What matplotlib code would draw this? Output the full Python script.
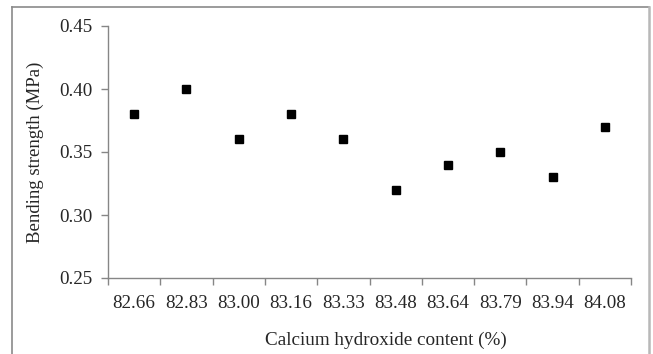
import matplotlib
matplotlib.use("Agg")
import matplotlib.pyplot as plt
from matplotlib.lines import Line2D

categories = ["82.66", "82.83", "83.00", "83.16", "83.33", "83.48", "83.64", "83.79", "83.94", "84.08"]
strength = [0.38, 0.40, 0.36, 0.38, 0.36, 0.32, 0.34, 0.35, 0.33, 0.37]
yticks = [0.25, 0.30, 0.35, 0.40, 0.45]

plt.rcParams['font.family'] = ['Liberation Serif', 'DejaVu Serif']

W, H = 653, 354
fig = plt.figure(figsize=(W/100, H/100), dpi=100)
ax = fig.add_axes([108/W, 1-278/H, (631-108)/W, (278-26)/H])

x = list(range(len(categories)))
ax.plot(x, strength, linestyle='none', marker='s', markersize=5.2, color='black')

ax.set_xlim(-0.5, len(categories)-0.5)
ax.set_ylim(0.25, 0.45)
ax.set_yticks(yticks)
ax.set_yticklabels([f"{v:.2f}" for v in yticks])
ax.set_xticks(x)
ax.set_xticklabels(categories)
ax.set_xticks([i-0.5 for i in range(len(categories)+1)], minor=True)
ax.tick_params(axis='x', which='major', length=0, labelsize=13.7, pad=12, colors='#262626')
ax.tick_params(axis='x', which='minor', length=5, color='#868686', width=1)
ax.tick_params(axis='y', length=5, color='#868686', width=1, labelsize=13.7, pad=6, labelcolor='#262626')

for s in ['top', 'right']:
    ax.spines[s].set_visible(False)
for s in ['left', 'bottom']:
    ax.spines[s].set_color('#868686')
    ax.spines[s].set_linewidth(1)

ax.set_xlabel("Calcium hydroxide content (%)", fontsize=13.8, color='#262626')
ax.set_ylabel("Bending strength (MPa)", fontsize=13.5, color='#262626')
ax.xaxis.set_label_coords((386-108)/523, (278-340)/252, transform=ax.transAxes)
ax.xaxis.label.set_va('center')
ax.yaxis.set_label_coords((35-108)/523, 0.5, transform=ax.transAxes)
ax.yaxis.label.set_va('center')

# figure border
fig.add_artist(Line2D([12/W, 12/W], [0, 1-7/H], transform=fig.transFigure, color='#8a8a8a', lw=1.2))
fig.add_artist(Line2D([12/W, 649/W], [1-7/H, 1-7/H], transform=fig.transFigure, color='#8a8a8a', lw=1.2))
fig.add_artist(Line2D([649/W, 649/W], [0, 1-7/H], transform=fig.transFigure, color='#b8b8b8', lw=1.8))

fig.savefig("out.png", dpi=100)
